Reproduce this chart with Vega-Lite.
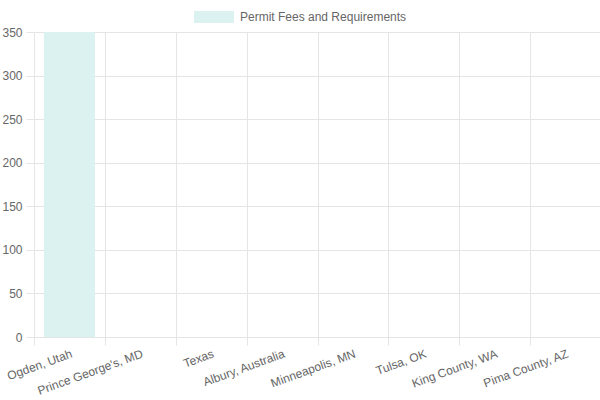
{
  "$schema": "https://vega.github.io/schema/vega-lite/v6.json",
  "autosize": {"type": "none"},
  "width": 567,
  "height": 305,
  "padding": {"left": 34, "top": 32, "right": 0, "bottom": 63},
  "data": {
    "values": [
      {"place": "Ogden, Utah", "value": 350},
      {"place": "Prince George's, MD", "value": 0},
      {"place": "Texas", "value": 0},
      {"place": "Albury, Australia", "value": 0},
      {"place": "Minneapolis, MN", "value": 0},
      {"place": "Tulsa, OK", "value": 0},
      {"place": "King County, WA", "value": 0},
      {"place": "Pima County, AZ", "value": 0}
    ]
  },
  "mark": {"type": "bar", "width": {"band": 0.72}},
  "encoding": {
    "x": {
      "field": "place",
      "type": "nominal",
      "sort": null,
      "title": null,
      "scale": {"paddingInner": 0, "paddingOuter": 0},
      "axis": {
        "tickBand": "extent",
        "grid": true,
        "labelAngle": -20,
        "labelAlign": "right",
        "labelBaseline": "top",
        "labelPadding": 3,
        "tickSize": 8,
        "domain": false
      }
    },
    "y": {
      "field": "value",
      "type": "quantitative",
      "title": null,
      "scale": {"domain": [0, 350], "nice": false},
      "axis": {
        "values": [0, 50, 100, 150, 200, 250, 300, 350],
        "grid": true,
        "tickSize": 8,
        "labelPadding": 4,
        "domain": false
      }
    },
    "color": {
      "datum": "Permit Fees and Requirements",
      "type": "nominal",
      "scale": {"range": ["#dbf2f0"]},
      "legend": {
        "title": null,
        "orient": "none",
        "legendX": 160,
        "legendY": -35,
        "symbolType": "M-1,-0.3H1V0.3H-1Z",
        "symbolSize": 1600,
        "symbolStrokeWidth": 0,
        "labelOffset": 6,
        "labelLimit": 300
      }
    }
  },
  "config": {
    "font": "Liberation Sans",
    "view": {"stroke": null},
    "axis": {
      "gridColor": "#e5e5e5",
      "tickColor": "#e5e5e5",
      "labelColor": "#666666",
      "labelFontSize": 12,
      "labelFont": "Liberation Sans"
    },
    "legend": {
      "labelColor": "#666666",
      "labelFontSize": 12,
      "labelFont": "Liberation Sans"
    }
  }
}
